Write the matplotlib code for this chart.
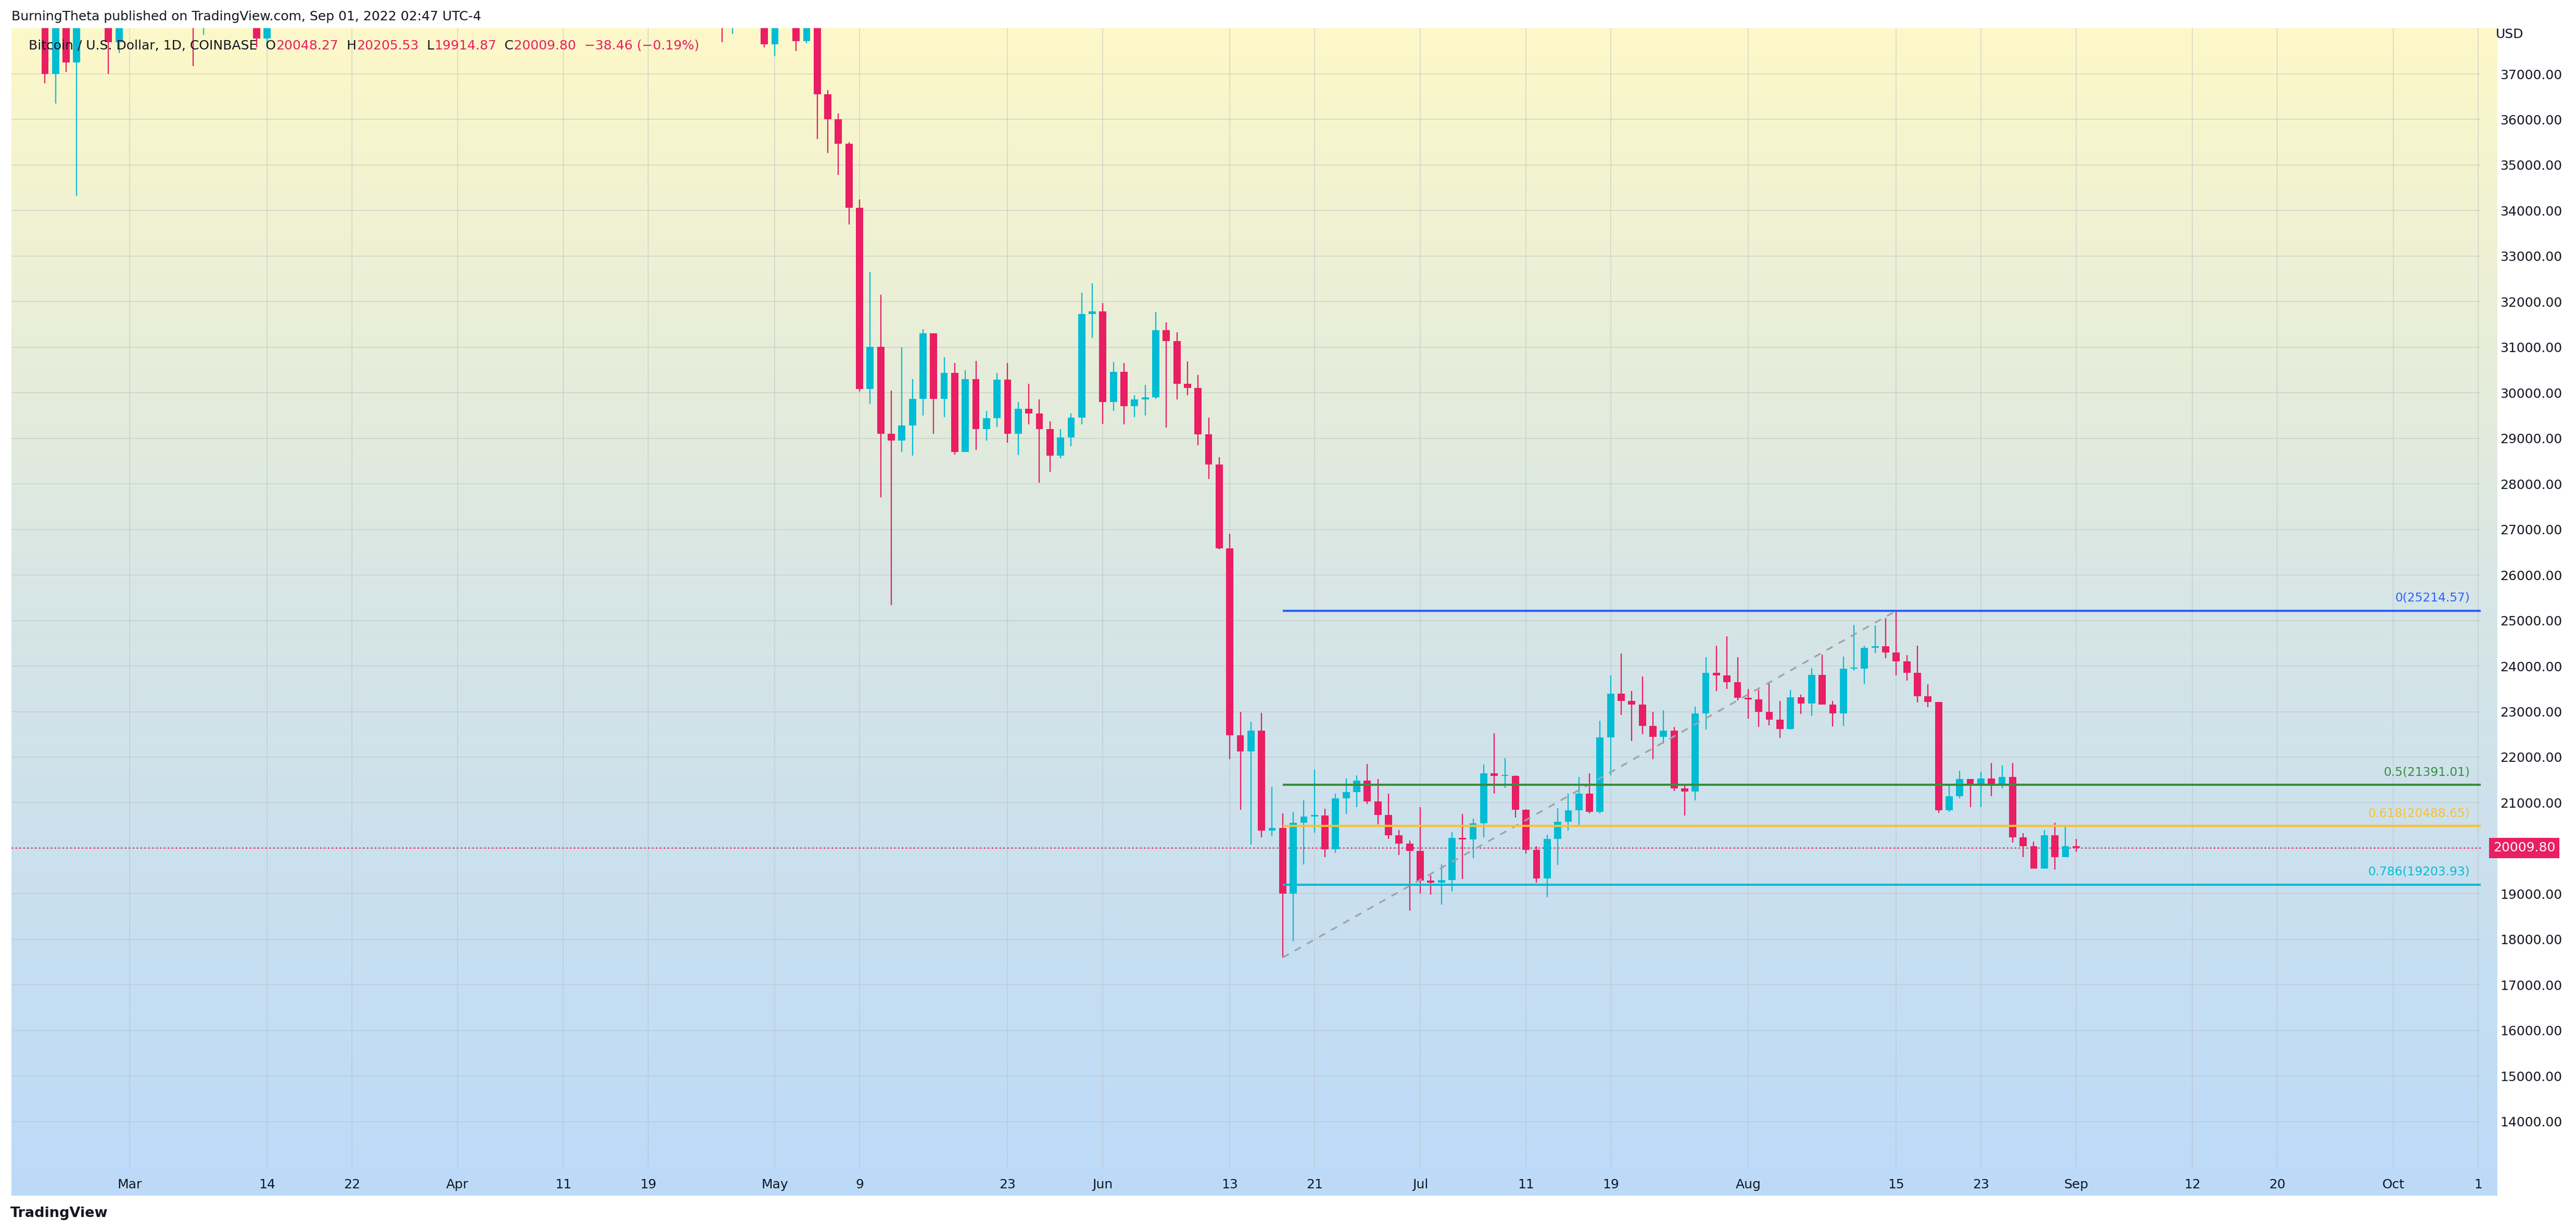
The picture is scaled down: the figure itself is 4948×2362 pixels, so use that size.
import numpy as np
import pandas as pd
import matplotlib
matplotlib.use("Agg")
import matplotlib.pyplot as plt
import matplotlib.dates as mdates
from matplotlib.colors import LinearSegmentedColormap

# daily candles, Coinbase BTC/USD, Feb 18 - Sep 01 2022
dates = pd.date_range("2022-02-18", "2022-09-01", freq="D")
first_open = 40550

close = [
    # Feb 18-28
    40000, 40100, 38350, 37000, 38250, 37250, 38330, 39220, 39110, 37700, 43180,
    # Mar
    44420, 43900, 42450, 39140, 39400, 38420, 38060, 38730, 41980, 39440, 38730,
    38810, 37780, 39670, 39280, 41110, 40920, 41770, 42200, 41260, 41000, 42370,
    42890, 43960, 44330, 44500, 46820, 47130, 47450, 47060, 45530,
    # Apr
    46300, 45810, 46400, 46600, 45500, 43200, 43440, 42280, 42780, 42160, 39530,
    40080, 41150, 39940, 40550, 40390, 39690, 40800, 41500, 41370, 40480, 39710,
    39470, 39450, 40430, 38110, 39240, 39740, 38600, 37650,
    # May
    38470, 38520, 37720, 39690, 36550, 36010, 35470, 34060, 30080, 31010, 29100,
    28950, 29280, 29870, 31310, 29870, 30440, 28700, 30300, 29200, 29440, 30290,
    29100, 29650, 29540, 29200, 28620, 29020, 29450, 31730, 31790,
    # Jun
    29800, 30460, 29700, 29860, 29900, 31370, 31130, 30200, 30110, 29090, 28420,
    26580, 22480, 22130, 22580, 20390, 20450, 19000, 20560, 20700, 20720, 19980,
    21100, 21230, 21490, 21030, 20730, 20280, 20100, 19940,
    # Jul
    19290, 19240, 19300, 20230, 20190, 20550, 21640, 21590, 21590, 20850, 19960,
    19330, 20210, 20580, 20830, 21200, 20800, 22430, 23400, 23230, 23160, 22690,
    22450, 22580, 21310, 21250, 22960, 23850, 23790, 23650, 23300,
    # Aug
    23270, 22990, 22820, 22620, 23310, 23180, 23810, 23160, 22960, 23940, 23940,
    24400, 24440, 24300, 24100, 23850, 23340, 23210, 20830, 21140, 21520, 21400,
    21530, 21370, 21560, 20240, 20040, 19550, 20280, 19800, 20048.27,
    # Sep 1
    20009.80,
]
high = [
    40950, 40470, 40120, 39480, 38420, 39250, 38970, 39700, 40280, 39850, 44000,
    44950, 45400, 44100, 42510, 39620, 39700, 39530, 39370, 42580, 42000, 40230,
    39340, 39300, 39900, 39880, 41700, 41440, 42300, 42380, 42290, 42000, 43350,
    43000, 44200, 45080, 44800, 46900, 48200, 48100, 47700, 47600,
    46700, 47200, 47450, 46870, 47200, 45500, 43900, 43970, 42800, 43430, 42400,
    40700, 41550, 41500, 40850, 40700, 40600, 41100, 41750, 42200, 42950, 40800,
    39980, 39900, 40600, 40800, 39460, 40380, 39920, 38800,
    38670, 39150, 38650, 39900, 39830, 36650, 36130, 35500, 34240, 32650, 32150,
    30050, 31000, 30300, 31400, 31300, 30780, 30650, 30500, 30700, 29600, 30440,
    30650, 29800, 30200, 29850, 29370, 29200, 29550, 32200, 32400,
    31970, 30680, 30650, 29950, 30170, 31770, 31550, 31330, 30690, 30390, 29450,
    28580, 26900, 23000, 22780, 22970, 21350, 20760, 20800, 21050, 21730, 20870,
    21200, 21530, 21600, 21850, 21520, 21200, 20400, 20170,
    20900, 19400, 19650, 20350, 20750, 20650, 21840, 22520, 21980, 21600, 20860,
    20050, 20300, 20880, 21200, 21570, 21650, 22800, 23800, 24280, 23450, 23770,
    22990, 23030, 22660, 21370, 23110, 24200, 24450, 24650, 24200,
    23500, 23470, 23650, 23230, 23470, 23370, 23950, 24250, 23230, 24210, 24900,
    24450, 24890, 25050, 25214.57, 24240, 24450, 23600, 23200, 21380, 21700, 21450,
    21680, 21870, 21820, 21870, 20330, 20150, 20400, 20560, 20480,
    20205.53,
]
low = [
    39450, 39650, 38050, 36800, 36350, 37050, 34320, 38020, 38570, 37000, 37460,
    42820, 43350, 41850, 38600, 38600, 38100, 37170, 37860, 38650, 38550, 38230,
    38650, 37580, 37590, 38130, 38900, 40550, 40150, 41520, 40930, 40500, 40880,
    41800, 42580, 43600, 44100, 44400, 46650, 46950, 46570, 45200,
    44200, 45650, 45530, 45150, 45360, 43150, 42750, 42120, 42130, 41890, 39210,
    39250, 39550, 39560, 39770, 39990, 39550, 38550, 40570, 40850, 39750, 39180,
    39300, 38900, 38200, 37700, 37880, 38880, 38200, 37580,
    37390, 38050, 37500, 37670, 35570, 35260, 34780, 33700, 30030, 29750, 27700,
    25338, 28700, 28620, 29500, 29100, 29460, 28640, 28700, 28750, 28950, 29250,
    28900, 28630, 29300, 28020, 28260, 28560, 28820, 29300, 31200,
    29320, 29600, 29300, 29470, 29500, 29870, 29240, 29850, 29950, 28850, 28100,
    26560, 21950, 20850, 20080, 20240, 20260, 17600, 17950, 19650, 20340, 19800,
    19900, 20750, 20900, 20970, 20520, 20200, 19850, 18630,
    19000, 18980, 18760, 19050, 19320, 19780, 20240, 21200, 21330, 20670, 19880,
    19240, 18920, 19630, 20390, 20480, 20770, 20770, 21600, 22930, 22350, 22500,
    21950, 22300, 21260, 20720, 21050, 22600, 23450, 23500, 23250,
    22850, 22660, 22700, 22420, 22600, 22950, 22900, 23150, 22670, 22680, 23900,
    23600, 24290, 24170, 23800, 23680, 23200, 23100, 20780, 20800, 21100, 20900,
    20900, 21140, 21310, 20120, 19800, 19550, 19550, 19530, 19800,
    19914.87,
]
open_ = [first_open] + close[:-1]

fib_levels = ["0", "0.5", "0.618", "0.786"]
fib_prices = [25214.57, 21391.01, 20488.65, 19203.93]
fib_colors = ["#2962ff", "#388e3c", "#fbc02d", "#00bcd4"]
swing_start = ("2022-06-18", 17600)
swing_end = ("2022-08-15", 25214.57)
last_price = 20009.80

tick_dates = ["2022-03-01", "2022-03-14", "2022-03-22", "2022-04-01", "2022-04-11",
              "2022-04-19", "2022-05-01", "2022-05-09", "2022-05-23", "2022-06-01",
              "2022-06-13", "2022-06-21", "2022-07-01", "2022-07-11", "2022-07-19",
              "2022-08-01", "2022-08-15", "2022-08-23", "2022-09-01", "2022-09-12",
              "2022-09-20", "2022-10-01", "2022-10-09"]
tick_labels = ["Mar", "14", "22", "Apr", "11", "19", "May", "9", "23", "Jun", "13",
               "21", "Jul", "11", "19", "Aug", "15", "23", "Sep", "12", "20", "Oct", "1"]

assert len(close) == len(dates) == len(high) == len(low)

UP, DOWN = "#00bcd4", "#e91e63"
W, H = 4948, 2362
fig = plt.figure(figsize=(W / 300, H / 300), dpi=300)
fig.patch.set_facecolor("white")

L, R = 7 / 1568, 1510 / 1568
B, T = 1 - 710 / 748, 1 - 17 / 748

# gradient background covering plot, price scale and date scale
bg = fig.add_axes([L, 1 - 727 / 748, 1520 / 1568 - L, T - (1 - 727 / 748)], zorder=0)
cmap = LinearSegmentedColormap.from_list("tv", ["#bcdaf9", "#d6e5e6", "#fdf8c8"])
bg.imshow(np.linspace(0, 1, 256)[::-1].reshape(-1, 1), aspect="auto", cmap=cmap,
          extent=[0, 1, 0, 1])
bg.axis("off")

ax = fig.add_axes([L, B, R - L, T - B], zorder=1)
ax.patch.set_alpha(0)
x = mdates.date2num(dates)
ax.set_xlim(mdates.date2num(pd.Timestamp("2022-02-17 20:00")),
            mdates.date2num(pd.Timestamp("2022-10-09 06:00")))
ax.set_ylim(12990, 38010)

for xi, o, h, l, c in zip(x, open_, high, low, close):
    col = UP if c >= o else DOWN
    ax.vlines(xi, l, h, color=col, lw=0.55, zorder=3)
    body = max(abs(c - o), 25)
    ax.bar(xi, body, width=0.68, bottom=min(o, c), color=col, lw=0, zorder=4)

# fib retracement
xs = mdates.date2num(pd.Timestamp(swing_start[0]))
xe = mdates.date2num(pd.Timestamp(swing_end[0]))
ax.plot([xs, xe], [swing_start[1], swing_end[1]], ls=(0, (4, 4)), color="#a0a4ab",
        lw=0.8, zorder=5)
x_right = ax.get_xlim()[1]
for lev, p, c in zip(fib_levels, fib_prices, fib_colors):
    ax.hlines(p, xs, x_right, color=c, lw=1.0, zorder=5)
    ax.text(x_right - 1.0, p + 150, f"{lev}({p:.2f})", color=c, fontsize=5.6,
            ha="right", va="bottom", zorder=6)

ax.axhline(last_price, color=DOWN, lw=0.6, ls=(0, (1, 2)), zorder=2)

# grid and ticks
ax.set_yticks(np.arange(14000, 38000, 1000))
ax.set_xticks(mdates.date2num(pd.to_datetime(tick_dates)))
ax.set_xticklabels(tick_labels)
ax.grid(True, color="#b8bcc0", lw=0.4, alpha=0.5)
ax.yaxis.tick_right()
# the 20000 label is hidden behind the last-price tag
ax.yaxis.set_major_formatter(plt.FuncFormatter(
    lambda v, p: "" if abs(v - last_price) < 400 else f"{v:.2f}"))
ax.tick_params(axis="y", length=0, pad=9, labelsize=6, labelcolor="#131722")
ax.tick_params(axis="x", length=0, pad=5, labelsize=6, labelcolor="#131722")
for s in ax.spines.values():
    s.set_visible(False)

ax.text(1.006, 38010, "USD", transform=ax.get_yaxis_transform(), fontsize=6,
        va="top", color="#131722")
ax.text(1.005, last_price, f"{last_price:.2f}", transform=ax.get_yaxis_transform(),
        fontsize=6, color="white", va="center", ha="left", zorder=7,
        bbox=dict(boxstyle="square,pad=0.3", fc=DOWN, ec="none"))

# header texts
fig.text(7 / 1568, 1 - 10 / 748, "BurningTheta published on TradingView.com, Sep 01, 2022 02:47 UTC-4",
         fontsize=6, va="center", color="#131722")
ax.text(0.007, 0.99, "Bitcoin / U.S. Dollar, 1D, COINBASE  O", transform=ax.transAxes,
        fontsize=6, va="top", color="#131722", zorder=8)
fig.text(0.004, 1 - 738 / 748, "TradingView", fontsize=6.5, va="center",
         color="#131722", fontweight="bold")

fig.canvas.draw()
t = ax.texts[-1]
parts = [("20048.27", DOWN), ("  H", "#131722"), ("20205.53", DOWN), ("  L", "#131722"),
         ("19914.87", DOWN), ("  C", "#131722"), ("20009.80  −38.46 (−0.19%)", DOWN)]
renderer = fig.canvas.get_renderer()
prev = t
for s, c in parts:
    bb = prev.get_window_extent(renderer)
    px = ax.transAxes.inverted().transform((bb.x1, bb.y1))
    prev = ax.text(px[0], 0.99, s, transform=ax.transAxes, fontsize=6, va="top",
                   color=c, zorder=8)
    fig.canvas.draw()

fig.savefig("out.png", dpi=300, facecolor="white")
